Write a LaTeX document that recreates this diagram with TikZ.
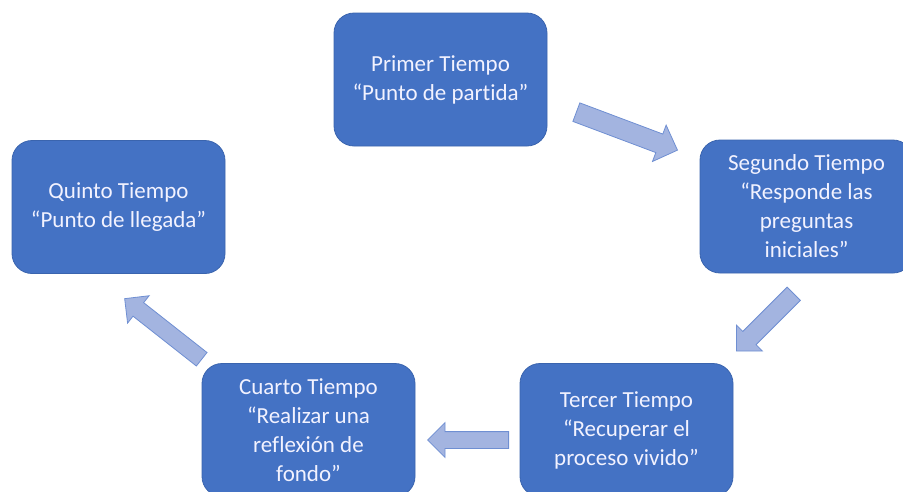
\documentclass[tikz,border=0pt]{standalone}
\usepackage{fontspec}
\setmainfont{Carlito}[Ligatures=NoCommon]
\usetikzlibrary{shapes.arrows}
\definecolor{boxfill}{HTML}{4472C4}
\definecolor{boxline}{HTML}{3A64AE}
\definecolor{arrfill}{HTML}{A3B4E0}
\definecolor{arrline}{HTML}{6F8FD2}
\begin{document}
\begin{tikzpicture}[x=1pt,y=1pt,
  stage/.style={draw=boxline, line width=0.8pt, fill=boxfill, rounded corners=20pt,
    minimum width=213pt, minimum height=133pt, text=white!95!blue, align=center,
    font=\fontsize{23}{29}\selectfont, inner sep=0pt},
  blockarrow/.style={single arrow, draw=arrline, fill=arrfill, line width=0.8pt,
    inner xsep=0pt, single arrow tip angle=90, anchor=tail}]
\useasboundingbox (0,0) rectangle (903,-491);
\begin{scope}
\clip (0,0) rectangle (903,-491);
\node[stage] (b1) at (440.5,-79.5) {Primer Tiempo\\“Punto de partida”};
\node[stage] (b2) at (806.5,-206.5) {Segundo Tiempo\\“Responde las\\preguntas\\iniciales”};
\node[stage] (b3) at (626.5,-430) {Tercer Tiempo\\“Recuperar el\\proceso vivido”};
\node[stage] (b4) at (308.5,-430) {Cuarto Tiempo\\“Realizar una\\reflexión de\\fondo”};
\node[stage] (b5) at (118.5,-207) {Quinto Tiempo\\“Punto de llegada”};
\end{scope}
\node[blockarrow, minimum height=108pt, minimum width=38pt, inner ysep=9.5pt,
  single arrow head extend=9.5pt, rotate=-20.6] (a12) at (576,-112) {};
\node[blockarrow, minimum height=81pt, minimum width=36pt, inner ysep=9pt,
  single arrow head extend=9pt, rotate=225] (a23) at (794,-293.5) {};
\node[blockarrow, minimum height=81pt, minimum width=34pt, inner ysep=8pt,
  single arrow head extend=9pt, rotate=180] (a34) at (509,-440) {};
\node[blockarrow, minimum height=98pt, minimum width=34pt, inner ysep=8.2pt,
  single arrow head extend=8.8pt, rotate=141.8] (a45) at (202,-359.5) {};
\end{tikzpicture}
\end{document}
